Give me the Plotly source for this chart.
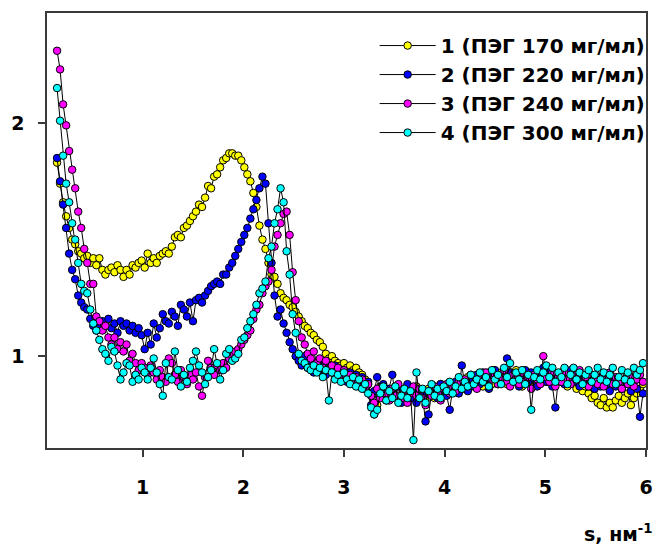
import plotly.graph_objects as go

S = [0.15, 0.18, 0.21, 0.24, 0.27, 0.30, 0.33, 0.36, 0.39, 0.42,
     0.45, 0.48, 0.51, 0.54, 0.57, 0.60, 0.63, 0.66, 0.69, 0.72,
     0.75, 0.78, 0.81, 0.84, 0.87, 0.90, 0.93, 0.96, 0.99, 1.02,
     1.05, 1.08, 1.11, 1.14, 1.17, 1.20, 1.23, 1.26, 1.29, 1.32,
     1.35, 1.38, 1.41, 1.44, 1.47, 1.50, 1.53, 1.56, 1.59, 1.62,
     1.65, 1.68, 1.71, 1.74, 1.77, 1.80, 1.83, 1.86, 1.89, 1.92,
     1.95, 1.98, 2.01, 2.04, 2.07, 2.10, 2.13, 2.16, 2.19, 2.22,
     2.25, 2.28, 2.31, 2.34, 2.37, 2.40, 2.43, 2.46, 2.49, 2.52,
     2.55, 2.58, 2.61, 2.64, 2.67, 2.70, 2.73, 2.76, 2.79, 2.82,
     2.85, 2.88, 2.91, 2.94, 2.97, 3.00, 3.03, 3.06, 3.09, 3.12,
     3.15, 3.18, 3.21, 3.24, 3.27, 3.30, 3.33, 3.36, 3.39, 3.42,
     3.45, 3.48, 3.51, 3.54, 3.57, 3.60, 3.63, 3.66, 3.69, 3.72,
     3.75, 3.78, 3.81, 3.84, 3.87, 3.90, 3.93, 3.96, 3.99, 4.02,
     4.05, 4.08, 4.11, 4.14, 4.17, 4.20, 4.23, 4.26, 4.29, 4.32,
     4.35, 4.38, 4.41, 4.44, 4.47, 4.50, 4.53, 4.56, 4.59, 4.62,
     4.65, 4.68, 4.71, 4.74, 4.77, 4.80, 4.83, 4.86, 4.89, 4.92,
     4.95, 4.98, 5.01, 5.04, 5.07, 5.10, 5.13, 5.16, 5.19, 5.22,
     5.25, 5.28, 5.31, 5.34, 5.37, 5.40, 5.43, 5.46, 5.49, 5.52,
     5.55, 5.58, 5.61, 5.64, 5.67, 5.70, 5.73, 5.76, 5.79, 5.82,
     5.85, 5.88, 5.91, 5.94, 5.97]

Y1 = [1.83, 1.74, 1.66, 1.60, 1.55, 1.50, 1.48, 1.45, 1.44, 1.42,
      1.43, 1.40, 1.42, 1.39, 1.42, 1.37, 1.35, 1.37, 1.38, 1.36,
      1.39, 1.37, 1.34, 1.37, 1.35, 1.39, 1.38, 1.40, 1.41, 1.38,
      1.44, 1.40, 1.42, 1.40, 1.43, 1.44, 1.45, 1.44, 1.47, 1.51,
      1.52, 1.51, 1.55, 1.56, 1.58, 1.60, 1.62, 1.65, 1.64, 1.68,
      1.73, 1.72, 1.77, 1.78, 1.81, 1.84, 1.85, 1.87, 1.87, 1.86,
      1.86, 1.84, 1.81, 1.78, 1.75, 1.70, 1.64, 1.56, 1.50, 1.46,
      1.40, 1.35, 1.34, 1.31, 1.27, 1.25, 1.24, 1.22, 1.21, 1.19,
      1.17, 1.15, 1.13, 1.12, 1.10, 1.09, 1.07, 1.06, 1.04, 1.01,
      0.99, 1.00, 0.98, 0.97, 0.96, 0.97, 0.95, 0.96, 0.94, 0.95,
      0.93, 0.92, 0.90, 0.88, 0.84, 0.75, 0.79, 0.87, 0.84, 0.86,
      0.82, 0.85, 0.87, 0.83, 0.81, 0.85, 0.86, 0.82, 0.84, 0.87,
      0.83, 0.85, 0.81, 0.86, 0.84, 0.82, 0.86, 0.88, 0.84, 0.86,
      0.88, 0.85, 0.87, 0.90, 0.86, 0.89, 0.91, 0.87, 0.90, 0.88,
      0.91, 0.87, 0.90, 0.93, 0.88, 0.91, 0.89, 0.93, 0.90, 0.88,
      0.92, 0.89, 0.94, 0.90, 0.87, 0.91, 0.93, 0.89, 0.92, 0.88,
      0.91, 0.93, 0.89, 0.92, 0.90, 0.88, 0.92, 0.89, 0.91, 0.87,
      0.90, 0.88, 0.86, 0.89, 0.85, 0.87, 0.84, 0.82, 0.83, 0.80,
      0.79, 0.82, 0.78, 0.80, 0.78, 0.81, 0.83, 0.80, 0.82, 0.84,
      0.79, 0.82, 0.84, 0.86, 0.88]

Y2 = [1.85, 1.75, 1.65, 1.55, 1.44, 1.37, 1.33, 1.26, 1.23, 1.21,
      1.20, 1.16, 1.13, 1.11, 1.12, 1.15, 1.13, 1.16, 1.12, 1.14,
      1.10, 1.15, 1.13, 1.14, 1.11, 1.13, 1.10, 1.12, 1.09, 1.03,
      1.10, 1.05, 1.14, 1.08, 1.12, 1.18, 1.15, 1.14, 1.19, 1.17,
      1.13, 1.22, 1.20, 1.17, 1.23, 1.15, 1.24, 1.25, 1.23, 1.26,
      1.28, 1.30, 1.31, 1.32, 1.31, 1.35, 1.35, 1.38, 1.40, 1.43,
      1.46, 1.49, 1.52, 1.55, 1.59, 1.63, 1.67, 1.72, 1.77, 1.74,
      1.57, 1.40, 1.26, 1.17, 1.20, 1.14, 1.10, 1.06, 1.03, 1.00,
      0.98, 0.96, 1.00, 0.95, 0.98, 0.93, 0.97, 0.94, 0.96, 0.92,
      0.95, 0.93, 0.96, 0.91, 0.94, 0.92, 0.89, 0.93, 0.90, 0.92,
      0.88, 0.91, 0.86, 0.89, 0.79, 0.85, 0.91, 0.83, 0.88, 0.81,
      0.86, 0.92, 0.83, 0.87, 0.80, 0.85, 0.88, 0.82, 0.86, 0.80,
      0.85, 0.83, 0.72, 0.75, 0.84, 0.87, 0.82, 0.88, 0.85, 0.83,
      0.77, 0.86, 0.89, 0.84, 0.96, 0.88, 0.85, 0.90, 0.87, 0.92,
      0.88, 0.93, 0.89, 0.86, 0.91, 0.94, 0.88, 0.92, 0.90, 0.99,
      0.93, 0.89, 0.92, 0.87, 0.91, 0.94, 0.89, 0.93, 0.90, 0.87,
      0.92, 0.95, 0.89, 0.93, 0.87, 0.78, 0.90, 0.93, 0.88, 0.91,
      0.94, 0.89, 0.92, 0.87, 0.91, 0.88, 0.93, 0.89, 0.86, 0.90,
      0.87, 0.91, 0.88, 0.85, 0.90, 0.87, 0.89, 0.86, 0.90, 0.88,
      0.85, 0.89, 0.86, 0.74, 0.84]

Y3 = [2.31, 2.23, 2.08, 1.99, 1.88, 1.80, 1.72, 1.62, 1.55, 1.46,
      1.40, 1.31, 1.31, 1.17, 1.15, 1.11, 1.13, 1.08, 1.05, 1.08,
      1.03, 1.06, 1.02, 1.05, 0.98, 1.01, 0.97, 0.94, 0.97, 0.95,
      0.92, 0.96, 0.93, 0.90, 0.94, 0.91, 0.89, 0.99, 0.97, 0.92,
      0.89, 0.94, 0.91, 0.88, 0.92, 0.90, 0.93, 0.87, 0.83, 0.91,
      0.98, 0.95, 0.92, 0.96, 0.94, 0.97, 0.95, 0.99, 1.00, 1.02,
      1.03, 1.05, 1.07, 1.09, 1.11, 1.16, 1.20, 1.22, 1.27, 1.30,
      1.32, 1.37, 1.47, 1.52, 1.57, 1.61, 1.62, 1.52, 1.36, 1.24,
      1.15, 1.08, 1.05, 1.01, 0.99, 1.02, 0.97, 0.99, 0.95, 0.98,
      0.94, 0.96, 0.93, 0.95, 0.91, 0.94, 0.90, 0.92, 0.89, 0.91,
      0.87, 0.90, 0.86, 0.88, 0.83, 0.80, 0.86, 0.82, 0.87, 0.84,
      0.81, 0.86, 0.83, 0.88, 0.82, 0.85, 0.80, 0.84, 0.87, 0.83,
      0.86, 0.82, 0.79, 0.85, 0.83, 0.87, 0.84, 0.81, 0.86, 0.88,
      0.84, 0.87, 0.85, 0.89, 0.86, 0.90, 0.87, 0.92, 0.88, 0.86,
      0.91, 0.89, 0.93, 0.87, 0.90, 0.92, 0.88, 0.91, 0.94, 0.89,
      0.87, 0.92, 0.90, 0.88, 0.93, 0.89, 0.91, 0.86, 0.92, 0.90,
      0.88, 1.00, 0.91, 0.89, 0.93, 0.87, 0.91, 0.89, 0.93, 0.90,
      0.88, 0.92, 0.90, 0.94, 0.89, 0.91, 0.87, 0.92, 0.90, 0.88,
      0.91, 0.87, 0.90, 0.93, 0.88, 0.91, 0.89, 0.86, 0.90, 0.88,
      0.91, 0.87, 0.90, 0.92, 0.89]

Y4 = [2.15, 2.01, 1.86, 1.74, 1.66, 1.57, 1.50, 1.40, 1.31, 1.28,
      1.27, 1.20, 1.14, 1.11, 1.07, 1.03, 1.01, 0.98, 1.04, 1.02,
      0.96, 0.90, 0.93, 0.97, 0.96, 0.89, 0.92, 0.90, 0.95, 0.93,
      0.90, 0.95, 0.99, 0.93, 0.88, 0.83, 0.97, 0.91, 0.90, 1.02,
      0.94, 0.87, 0.92, 0.89, 0.95, 0.98, 1.02, 0.96, 0.93, 0.88,
      0.91, 0.94, 1.03, 0.97, 0.90, 0.94, 1.01, 1.03, 0.98, 0.99,
      1.01, 1.07, 1.08, 1.12, 1.15, 1.18, 1.22, 1.27, 1.29, 1.32,
      1.42, 1.47, 1.57, 1.63, 1.72, 1.66, 1.45, 1.35, 1.18, 1.10,
      1.01, 0.98, 0.97, 0.95, 0.94, 0.96, 0.93, 0.95, 0.91, 0.94,
      0.81, 0.93, 0.90, 0.92, 0.89, 0.93, 0.90, 0.88, 0.91, 0.87,
      0.90, 0.86, 0.88, 0.84, 0.78, 0.75, 0.77, 0.84, 0.87, 0.81,
      0.85, 0.82, 0.87, 0.80, 0.83, 0.86, 0.82, 0.85, 0.64, 0.93,
      0.82, 0.86, 0.80, 0.85, 0.88, 0.83, 0.86, 0.82, 0.87, 0.85,
      0.89, 0.84, 0.87, 0.91, 0.86, 0.89, 0.87, 0.92, 0.88, 0.90,
      0.93, 0.89, 0.91, 0.87, 0.94, 0.90, 0.92, 0.88, 0.95, 0.91,
      0.97, 0.89, 0.93, 0.90, 0.94, 0.88, 0.92, 0.77, 0.91, 0.94,
      0.90, 0.93, 0.96, 0.91, 0.95, 0.89, 0.93, 0.91, 0.95, 0.88,
      0.92, 0.95, 0.90, 0.93, 0.88, 0.92, 0.94, 0.89, 0.92, 0.95,
      0.90, 0.93, 0.89, 0.92, 0.95, 0.88, 0.91, 0.94, 0.90, 0.93,
      0.89, 0.95, 0.92, 0.94, 0.97]

NAMES = ["1 (ПЭГ 170 мг/мл)", "2 (ПЭГ 220 мг/мл)", "3 (ПЭГ 240 мг/мл)", "4 (ПЭГ 300 мг/мл)"]
COLORS = ["#FFFF00", "#0000FF", "#FF00FF", "#00FFFF"]
SERIES = [Y1, Y2, Y3, Y4]

XTICKS = [1, 2, 3, 4, 5, 6]
YTICKS = [1, 2]

TICKFONT = dict(family="DejaVu Sans", size=19, color="black", weight="bold")
LEGFONT = dict(family="DejaVu Sans", size=20, color="black", weight="bold")

fig = go.Figure()
for name, col, ys in zip(NAMES, COLORS, SERIES):
    fig.add_trace(go.Scatter(
        x=S, y=ys, name=name, mode="lines+markers",
        line=dict(color="black", width=1),
        marker=dict(color=col, size=7.5, line=dict(color="black", width=1)),
    ))

axis_common = dict(
    showline=True, mirror=True, linecolor="#3a3a3a", linewidth=1.5,
    ticks="outside", ticklen=7, tickwidth=1.5, tickcolor="#3a3a3a",
    showgrid=False, zeroline=False, tickfont=TICKFONT,
)

fig.update_layout(
    width=664, height=545,
    margin=dict(l=45, r=11, t=12, b=97),
    paper_bgcolor="white", plot_bgcolor="white",
    xaxis=dict(range=[0.05, 6.0], tickvals=XTICKS, ticktext=[str(v) for v in XTICKS],
               ticklabelstandoff=14, **axis_common),
    yaxis=dict(range=[0.606, 2.472], tickvals=YTICKS, ticktext=[str(v) for v in YTICKS],
               ticklabelstandoff=10, **axis_common),
    legend=dict(x=0.547, y=0.97, xanchor="left", yanchor="top", font=LEGFONT,
                bgcolor="rgba(0,0,0,0)", itemwidth=56, tracegroupgap=0),
    showlegend=True,
    annotations=[dict(text="s, нм<sup>-1</sup>", xref="paper", yref="paper",
                      x=1.015, y=-0.228, xanchor="right", yanchor="bottom",
                      showarrow=False, font=TICKFONT)],
)

fig.write_html("out.html")
